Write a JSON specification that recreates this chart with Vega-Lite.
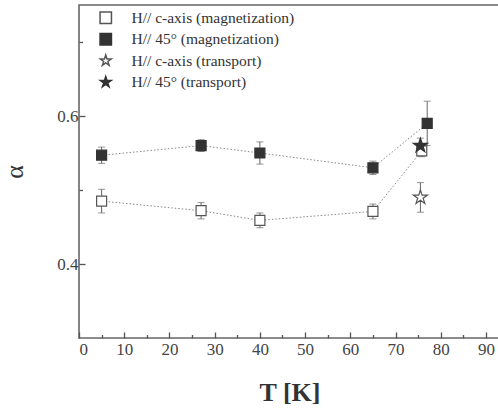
{
  "$schema": "https://vega.github.io/schema/vega-lite/v6.json",
  "width": 421,
  "height": 333,
  "autosize": "none",
  "padding": {"left": 79, "top": 5, "right": 0, "bottom": 72},
  "background": "white",
  "config": {
    "font": "Liberation Serif, Times New Roman, serif",
    "view": {"stroke": "#666", "strokeWidth": 1.6},
    "axis": {
      "domain": false,
      "grid": false,
      "labelFont": "Liberation Serif, Times New Roman, serif",
      "labelFontSize": 17,
      "labelColor": "#444",
      "tickColor": "#555",
      "tickWidth": 1.3,
      "titleFont": "Liberation Serif, Times New Roman, serif",
      "titleColor": "#333"
    }
  },
  "datasets": {
    "pts": [
      {"series": "H// c-axis (magnetization)", "kind": "mag", "T": 5, "a": 0.485, "lo": 0.469, "hi": 0.501},
      {"series": "H// c-axis (magnetization)", "kind": "mag", "T": 27, "a": 0.472, "lo": 0.461, "hi": 0.483},
      {"series": "H// c-axis (magnetization)", "kind": "mag", "T": 40, "a": 0.459, "lo": 0.449, "hi": 0.469},
      {"series": "H// c-axis (magnetization)", "kind": "mag", "T": 65, "a": 0.471, "lo": 0.461, "hi": 0.481},
      {"series": "H// c-axis (magnetization)", "kind": "mag", "T": 75.8, "a": 0.553, "lo": 0.545, "hi": 0.561},
      {"series": "H// 45° (magnetization)", "kind": "mag", "T": 5, "a": 0.547, "lo": 0.536, "hi": 0.558},
      {"series": "H// 45° (magnetization)", "kind": "mag", "T": 27, "a": 0.560, "lo": 0.552, "hi": 0.568},
      {"series": "H// 45° (magnetization)", "kind": "mag", "T": 40, "a": 0.550, "lo": 0.535, "hi": 0.565},
      {"series": "H// 45° (magnetization)", "kind": "mag", "T": 65, "a": 0.530, "lo": 0.521, "hi": 0.539},
      {"series": "H// 45° (magnetization)", "kind": "mag", "T": 77, "a": 0.590, "lo": 0.560, "hi": 0.620},
      {"series": "H// c-axis (transport)", "kind": "tr", "T": 75.5, "a": 0.490, "lo": 0.470, "hi": 0.510},
      {"series": "H// 45° (transport)", "kind": "tr", "T": 75.5, "a": 0.560, "lo": 0.551, "hi": 0.570}
    ]
  },
  "data": {"name": "pts"},
  "encoding": {
    "x": {
      "field": "T",
      "type": "quantitative",
      "scale": {"domain": [0, 93.1], "nice": false, "zero": false},
      "axis": {
        "values": [0, 5, 10, 15, 20, 25, 30, 35, 40, 45, 50, 55, 60, 65, 70, 75, 80, 85, 90],
        "labelExpr": "datum.value % 10 == 0 ? datum.label : ''",
        "tickSize": {"condition": {"test": "datum.value % 10 != 0", "value": -3.5}, "value": -6},
        "labelPadding": 9,
        "title": "T [K]",
        "titleFontSize": 26,
        "titleFontWeight": "bold",
        "titlePadding": 22
      }
    },
    "y": {
      "field": "a",
      "type": "quantitative",
      "scale": {"domain": [0.3, 0.75], "nice": false, "zero": false},
      "axis": {
        "values": [0.4, 0.5, 0.6, 0.7],
        "labelExpr": "datum.value == 0.4 || datum.value == 0.6 ? format(datum.value, '.1f') : ''",
        "tickSize": {"condition": {"test": "datum.value == 0.5 || datum.value == 0.7", "value": -3.5}, "value": -6},
        "labelPadding": 7,
        "title": "α",
        "titleFontSize": 26,
        "titleFontWeight": "normal",
        "titlePadding": 29
      }
    }
  },
  "layer": [
    {
      "transform": [{"filter": "datum.kind == 'mag'"}],
      "mark": {"type": "line", "color": "#888", "strokeWidth": 1, "strokeDash": [1.5, 2]},
      "encoding": {"detail": {"field": "series", "type": "nominal"}}
    },
    {
      "mark": {"type": "rule", "color": "#666", "strokeWidth": 1},
      "encoding": {"y": {"field": "lo", "type": "quantitative"}, "y2": {"field": "hi"}}
    },
    {
      "mark": {"type": "tick", "orient": "horizontal", "color": "#666", "size": 7, "thickness": 1},
      "encoding": {"y": {"field": "lo", "type": "quantitative"}}
    },
    {
      "mark": {"type": "tick", "orient": "horizontal", "color": "#666", "size": 7, "thickness": 1},
      "encoding": {"y": {"field": "hi", "type": "quantitative"}}
    },
    {
      "mark": {"type": "point", "filled": true, "strokeWidth": 1.2, "opacity": 1},
      "encoding": {
        "shape": {
          "field": "series", "type": "nominal",
          "scale": {
            "domain": ["H// c-axis (magnetization)", "H// 45° (magnetization)", "H// c-axis (transport)", "H// 45° (transport)"],
            "range": ["square", "square", "M0,-1L0.2245,-0.309L0.951,-0.309L0.363,0.118L0.588,0.809L0,0.382L-0.588,0.809L-0.363,0.118L-0.951,-0.309L-0.2245,-0.309Z", "M0,-1L0.2245,-0.309L0.951,-0.309L0.363,0.118L0.588,0.809L0,0.382L-0.588,0.809L-0.363,0.118L-0.951,-0.309L-0.2245,-0.309Z"]
          },
          "legend": {
            "orient": "none",
            "legendX": 19,
            "legendY": 5,
            "title": null,
            "padding": 0,
            "symbolSize": 130,
            "labelFont": "Liberation Serif, Times New Roman, serif",
            "labelFontSize": 15.5,
            "labelColor": "#333",
            "labelLimit": 400,
            "labelOffset": 18,
            "rowPadding": 3.5
          }
        },
        "fill": {
          "field": "series", "type": "nominal",
          "scale": {
            "domain": ["H// c-axis (magnetization)", "H// 45° (magnetization)", "H// c-axis (transport)", "H// 45° (transport)"],
            "range": ["#ffffff", "#333333", "#ffffff", "#333333"]
          }
        },
        "stroke": {
          "field": "series", "type": "nominal",
          "scale": {
            "domain": ["H// c-axis (magnetization)", "H// 45° (magnetization)", "H// c-axis (transport)", "H// 45° (transport)"],
            "range": ["#555555", "#333333", "#555555", "#333333"]
          }
        },
        "size": {"condition": {"test": "datum.kind == 'tr'", "value": 220}, "value": 100}
      }
    }
  ]
}
